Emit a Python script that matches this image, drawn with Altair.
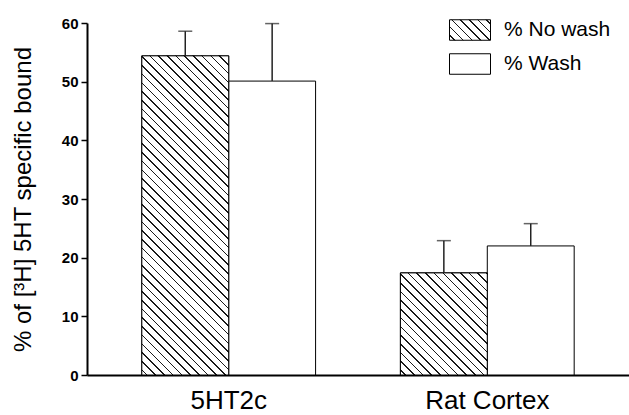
import json
import math
import altair as alt
import pandas as pd

# ---- data ----
categories = ["5HT2c", "Rat Cortex"]
series = ["% No wash", "% Wash"]
no_wash = [54.4, 17.4]
no_wash_err = [4.2, 5.5]
wash = [50.1, 22.0]
wash_err = [9.8, 3.8]
y_ticks = [0, 5, 10, 15, 20, 25, 30, 35, 40, 45, 50, 55, 60]

rows = []
for i, c in enumerate(categories):
    rows.append({"category": c, "series": series[0], "value": no_wash[i], "err": no_wash_err[i]})
    rows.append({"category": c, "series": series[1], "value": wash[i], "err": wash_err[i]})
df = pd.DataFrame(rows)

# ---- layout ----
PLOT_W, PLOT_H = 542, 352
Y_MAX = 60
PAD_IN, PAD_OUT = 0.328, 0.212
step = PLOT_W / (len(categories) - PAD_IN + 2 * PAD_OUT)
bar_w = step * (1 - PAD_IN) / len(series)
FONT = "Liberation Sans"


def hatch(w, h, period=8.7 / math.sqrt(2), lw=1.1, color="#1a1a1a"):
    """Diagonal '\\' hatch as a linear gradient in bounding-box units."""
    r = h / w
    s = (1 + r) / (1 + r * r)
    L = (w + h) / math.sqrt(2)
    stops = [{"offset": 0, "color": "white"}]
    t = period * 0.6
    while t + lw / 2 < L:
        a = round((t - lw / 2) / L, 5)
        b = round((t + lw / 2) / L, 5)
        stops += [
            {"offset": a, "color": "white"},
            {"offset": a, "color": color},
            {"offset": b, "color": color},
            {"offset": b, "color": "white"},
        ]
        t += period
    stops.append({"offset": 1, "color": "white"})
    return {"gradient": "linear", "x1": 0, "y1": 1, "x2": round(s, 5),
            "y2": round(1 - s * r, 5), "stops": stops}


x_enc = alt.X(
    "category:N",
    sort=categories,
    scale=alt.Scale(domain=categories, paddingInner=PAD_IN, paddingOuter=PAD_OUT),
    axis=alt.Axis(title=None, labelAngle=0, labelFontSize=26, labelFont=FONT,
                  labelColor="black", labelPadding=12, ticks=False,
                  domainColor="black", domainWidth=2, grid=False),
)
xoff_enc = alt.XOffset("series:N", scale=alt.Scale(domain=series))
y_enc = alt.Y(
    "value:Q",
    scale=alt.Scale(domain=[0, Y_MAX], nice=False),
    axis=alt.Axis(
        values=y_ticks,
        title="% of [³H] 5HT specific bound",
        titleFont=FONT, titleFontSize=24, titleFontWeight="normal",
        titleColor="black", titlePadding=26,
        labelExpr="datum.value % 10 === 0 ? datum.label : ''",
        labelFont=FONT, labelFontSize=15, labelFontWeight="bold",
        labelColor="black", labelPadding=3,
        tickSize={"condition": {"test": "datum.value % 10 !== 0", "value": 3}, "value": 6},
        tickColor="black", tickWidth=1.5,
        domainColor="black", domainWidth=2, grid=False,
    ),
)

legend_grad = hatch(41, 20.5)

base = alt.Chart(df).mark_bar(stroke="black", strokeWidth=1, opacity=1).encode(
    x=x_enc,
    xOffset=xoff_enc,
    y=y_enc,
    fill=alt.Fill(
        "series:N",
        scale=alt.Scale(domain=series,
                        range=[alt.ExprRef(expr=json.dumps(legend_grad)), "white"]),
        legend=alt.Legend(
            title=None, orient="none", legendX=362, legendY=-14, padding=0,
            symbolType="M-1,-0.5H1V0.5H-1Z", symbolSize=1681,
            symbolStrokeColor="black", symbolStrokeWidth=1, symbolOpacity=1,
            labelFont=FONT, labelFontSize=21, labelColor="black",
            labelOffset=13, rowPadding=-10,
        ),
    ),
)

layers = [base]
for i, c in enumerate(categories):
    h_px = no_wash[i] * PLOT_H / Y_MAX
    layers.append(
        alt.Chart(df)
        .transform_filter((alt.datum.category == c) & (alt.datum.series == series[0]))
        .mark_bar(fill=hatch(bar_w, h_px), stroke="black", strokeWidth=1)
        .encode(x=x_enc, xOffset=xoff_enc, y=y_enc)
    )

err = alt.Chart(df).transform_calculate(top="datum.value + datum.err")
rules = err.mark_rule(color="#222", strokeWidth=1.5).encode(
    x=x_enc, xOffset=xoff_enc, y=alt.Y("value:Q"), y2="top:Q")
caps = err.mark_tick(color="#222", thickness=1.5, size=14).encode(
    x=x_enc, xOffset=xoff_enc, y=alt.Y("top:Q"))
layers += [rules, caps]

chart = alt.layer(*layers).properties(
    width=PLOT_W, height=PLOT_H,
    padding={"left": 87, "top": 23, "right": 0, "bottom": 40},
    autosize=alt.AutoSizeParams(type="none"),
    background="white",
).configure_view(stroke=None)

chart.save("out.html", embed_options={"renderer": "svg", "actions": False})
